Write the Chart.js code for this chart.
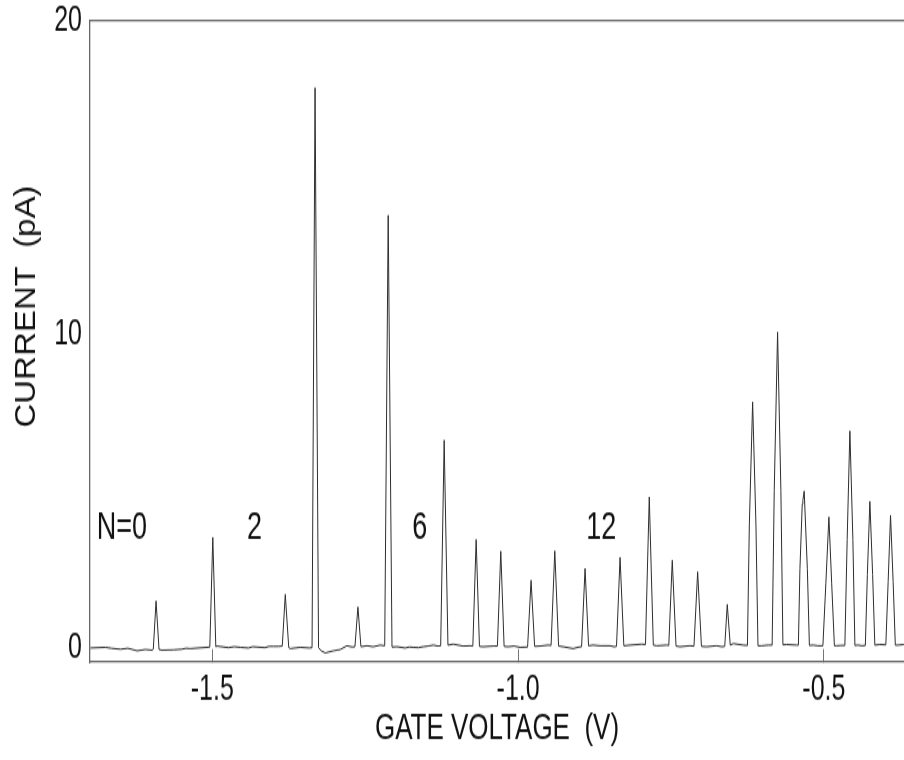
<!DOCTYPE html>
<html>
<head>
<meta charset="utf-8">
<title>Gate voltage sweep</title>
<script src="https://cdn.jsdelivr.net/npm/chart.js@4.4.1/dist/chart.umd.min.js"></script>
<style>
  html, body { margin: 0; padding: 0; background: #fff; overflow: hidden; }
  #sweep { display: block; }
</style>
</head>
<body>
<!-- drawn at 904x543, shown 760px tall (tall, narrow lettering of the print) -->
<canvas id="sweep" width="904" height="543" style="width:904px;height:760px"></canvas>
<script>
// current trace over the gate sweep, one entry per point
const gateVoltage = [
    -1.6993, -1.6748, -1.6650, -1.6503, -1.6380, -1.6230, -1.6095, -1.5985,
    -1.5965, -1.5920, -1.5871, -1.5822, -1.5637, -1.5500, -1.5430, -1.5359, -1.5087,
    -1.5041, -1.4992, -1.4943, -1.4923, -1.4739, -1.4640, -1.4542, -1.4410, -1.4340,
    -1.4270, -1.4140, -1.4070, -1.3998, -1.3922,
    -1.3856, -1.3807, -1.3750, -1.3725, -1.3562, -1.3415,
    -1.3369, -1.3320, -1.3263, -1.3219, -1.3154, -1.3018, -1.2908, -1.2799, -1.2712,
    -1.2668, -1.2619, -1.2570, -1.2472, -1.2369, -1.2255,
    -1.2181, -1.2124, -1.2062, -1.1982, -1.1846, -1.1780, -1.1716, -1.1630, -1.1552,
    -1.1470, -1.1389, -1.1307,
    -1.1266, -1.1209, -1.1147, -1.1057, -1.0899, -1.0784,
    -1.0740, -1.0686, -1.0632, -1.0572, -1.0408,
    -1.0338, -1.0283, -1.0229, -1.0163, -1.0065, -0.9967,
    -0.9845, -0.9788, -0.9730, -0.9641, -0.9510,
    -0.9461, -0.9400, -0.9338, -0.9265, -0.9101, -0.9003,
    -0.8962, -0.8905, -0.8848, -0.8775, -0.8660, -0.8497, -0.8431,
    -0.8391, -0.8333, -0.8271, -0.8170, -0.7979,
    -0.7917, -0.7887, -0.7855, -0.7822, -0.7789, -0.7734, -0.7570,
    -0.7536, -0.7479, -0.7418, -0.7353, -0.7190,
    -0.7124, -0.7064, -0.7002, -0.6917, -0.6753, -0.6667,
    -0.6621, -0.6580, -0.6531, -0.6482, -0.6319,
    -0.6250, -0.6219, -0.6165, -0.6111, -0.6078, -0.6018, -0.5910,
    -0.5846, -0.5812, -0.5757, -0.5703, -0.5670, -0.5609, -0.5446,
    -0.5417, -0.5392, -0.5354, -0.5344, -0.5322, -0.5270, -0.5237, -0.5175, -0.5098,
    -0.5016, -0.4967, -0.4918, -0.4873, -0.4828, -0.4793, -0.4722,
    -0.4657, -0.4619, -0.4575, -0.4526, -0.4493, -0.4440, -0.4379,
    -0.4322, -0.4289, -0.4248, -0.4203, -0.4167, -0.4085,
    -0.3987, -0.3949, -0.3910, -0.3868, -0.3832, -0.3786, -0.3693
];
const current = [
    -0.01, 0.01, -0.02, -0.05, -0.02, -0.10, -0.06, -0.08,
    -0.05, 1.49, -0.06, -0.08, -0.07, -0.05, -0.02, -0.03, 0.01,
    0.02, 3.52, 0.03, 0.05, 0.00, 0.03, 0.01, -0.01, 0.03,
    0.02, 0.00, 0.04, 0.04, 0.04,
    0.05, 1.70, 0.00, -0.03, 0.01, -0.01,
    0.00, 17.87, 0.00, -0.10, -0.17, -0.10, -0.06, 0.06, 0.02,
    0.03, 1.30, 0.03, 0.06, 0.03, 0.08,
    0.06, 13.80, 0.02, 0.03, -0.01, 0.02, 0.01, 0.00, 0.03,
    0.05, 0.08, 0.05,
    0.06, 6.62, 0.08, 0.11, 0.05, 0.06,
    0.05, 3.45, 0.04, 0.03, 0.05,
    0.05, 3.08, 0.04, 0.03, 0.05, 0.01,
    0.02, 2.15, 0.04, 0.05, 0.08,
    0.07, 3.09, 0.05, 0.03, -0.03, 0.02,
    0.03, 2.53, 0.06, 0.08, 0.06, 0.06, 0.03,
    0.04, 2.88, 0.06, 0.08, 0.11,
    0.10, 2.40, 4.81, 2.40, 0.08, 0.06, 0.08,
    0.07, 2.79, 0.05, 0.03, 0.06,
    0.05, 2.42, 0.04, 0.03, 0.06, 0.03,
    0.04, 1.38, 0.08, 0.13, 0.08,
    0.07, 3.92, 7.84, 3.92, 0.06, 0.06, 0.08,
    0.08, 5.00, 10.07, 5.00, 0.09, 0.10, 0.08,
    0.08, 2.50, 4.58, 4.70, 5.00, 2.50, 0.07, 0.08, 0.06,
    0.06, 2.08, 4.17, 2.08, 0.06, 0.06, 0.07,
    0.07, 3.46, 6.92, 3.46, 0.07, 0.08, 0.06,
    0.07, 2.33, 4.67, 2.33, 0.08, 0.10,
    0.09, 2.12, 4.23, 2.12, 0.08, 0.08, 0.10
];

const xTicks = [-1.5, -1.0, -0.5];
const yTicks = [0, 10, 20];

// electron number written over the peaks
const chargeLabels = ['N=0', '2', '6', '12'];
const chargeLabelVoltage = [-1.648, -1.431, -1.161, -0.864];
const chargeLabelCurrent = 3.8;

const STRETCH = 760 / 543;
const FONT = "'Liberation Sans', Arial, Helvetica, sans-serif";
const INK = '#111';
const AXIS = '#666';

const chargeLabelPlugin = {
    id: 'chargeLabels',
    afterDatasetsDraw(chart) {
        const {ctx, scales: {x, y}} = chart;
        ctx.save();
        ctx.font = '27px ' + FONT;
        ctx.fillStyle = INK;
        ctx.textAlign = 'center';
        ctx.textBaseline = 'middle';
        chargeLabels.forEach((text, i) => {
            ctx.fillText(text, x.getPixelForValue(chargeLabelVoltage[i]), y.getPixelForValue(chargeLabelCurrent));
        });
        ctx.restore();
    }
};

// y title is drawn by hand so the canvas stretch doesn't lengthen it
const yTitlePlugin = {
    id: 'yTitle',
    afterDraw(chart) {
        const {ctx, chartArea} = chart;
        ctx.save();
        ctx.translate(35, (chartArea.top + chartArea.bottom) / 2 - 25);
        ctx.scale(1, 1.1 / STRETCH);
        ctx.rotate(-Math.PI / 2);
        ctx.font = '30px ' + FONT;
        ctx.fillStyle = INK;
        ctx.textAlign = 'center';
        ctx.textBaseline = 'alphabetic';
        ctx.fillText('CURRENT  (pA)', 0, 0);
        ctx.restore();
    }
};

new Chart(document.getElementById('sweep'), {
    type: 'line',
    data: {
        datasets: [{
            data: gateVoltage.map((v, i) => ({x: v, y: current[i]})),
            borderColor: '#2e2e2e',
            borderWidth: 1,
            pointRadius: 0,
            tension: 0,
            fill: false
        }]
    },
    options: {
        responsive: false,
        devicePixelRatio: 1,
        animation: false,
        events: [],
        layout: {padding: {top: 15, right: 0, bottom: 0, left: 0}},
        plugins: {
            legend: {display: false},
            tooltip: {enabled: false}
        },
        scales: {
            x: {
                type: 'linear',
                position: 'bottom',
                min: -1.70,
                max: -0.369,
                afterBuildTicks: (scale) => { scale.ticks = xTicks.map(value => ({value})); },
                afterFit: (scale) => { scale.height = 70; },
                grid: {drawOnChartArea: false, tickLength: -9.3, color: '#777', lineWidth: 1},
                border: {color: AXIS, width: 1.3},
                ticks: {
                    padding: 14.3,
                    color: INK,
                    font: {family: FONT, size: 25},
                    maxRotation: 0,
                    autoSkip: false,
                    callback: (v) => v.toFixed(1)
                },
                title: {
                    display: true,
                    text: 'GATE VOLTAGE  (V)',
                    color: INK,
                    font: {family: FONT, size: 26},
                    padding: {top: 0, bottom: 7}
                }
            },
            // top frame line only
            xTop: {
                type: 'linear',
                position: 'top',
                display: true,
                min: -1.70,
                max: -0.369,
                grid: {display: false, drawTicks: false},
                ticks: {display: false},
                border: {color: AXIS, width: 1.3}
            },
            y: {
                min: -0.46,
                max: 20,
                afterBuildTicks: (scale) => { scale.ticks = yTicks.map(value => ({value})); },
                afterFit: (scale) => {
                    // the top label may hang over the frame; keep the frame where the padding puts it
                    scale.width = 90;
                    scale.paddingTop = 0;
                    scale.paddingBottom = 0;
                },
                grid: {display: false, drawTicks: false},
                border: {color: AXIS, width: 1.3},
                ticks: {padding: 8, color: INK, font: {family: FONT, size: 25}}
            }
        }
    },
    plugins: [chargeLabelPlugin, yTitlePlugin]
});
</script>
</body>
</html>
